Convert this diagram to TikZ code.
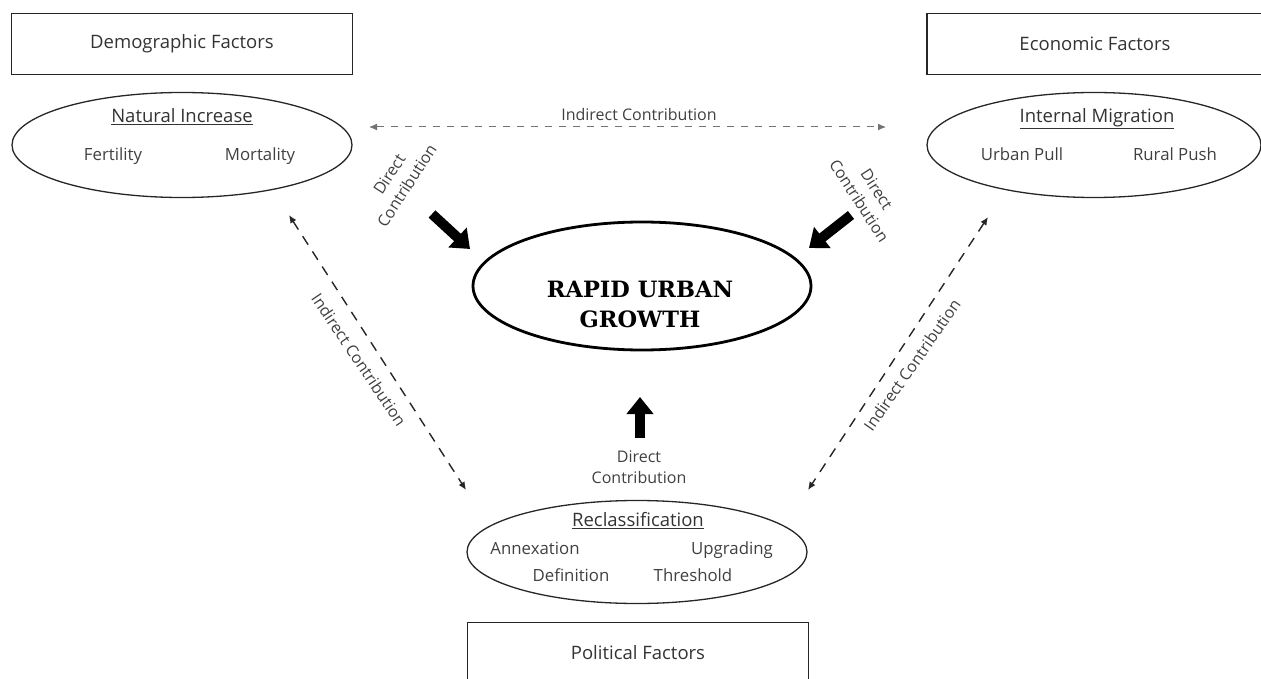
\documentclass[tikz,border=0pt]{standalone}
\usepackage{fontspec}
\setmainfont{Open Sans}
\newfontfamily\headfont{DejaVu Serif}
\usetikzlibrary{shapes.geometric,arrows.meta}
\begin{document}
\begin{tikzpicture}[x=1pt,y=-1pt,
  factor/.style={draw=black!85, line width=1.4pt, minimum width=341pt, minimum height=61pt, text=black!80, font=\fontsize{18.5}{22}\selectfont},
  cause/.style={draw=black!85, ellipse, line width=1.3pt, minimum width=340pt, minimum height=105pt},
  head/.style={text=black!80, text height=0.75em, text depth=0.25em, font=\fontsize{18.5}{22}\selectfont},
  item/.style={text=black!75, text height=0.75em, text depth=0.25em, font=\fontsize{16.8}{20}\selectfont},
  lbl/.style={text=black!75, font=\fontsize{16}{21}\selectfont, align=center},
  direct/.style={line width=10pt, black, -{Triangle[length=17pt,width=26pt]}},
  indirect/.style={line width=1.4pt, black!85, dash pattern=on 10pt off 8pt, {Latex[length=8pt,width=7pt]}-{Latex[length=8pt,width=7pt]}}]
\useasboundingbox (0,0) rectangle (1261,679);

% factor boxes
\node[factor] (demo) at (182,44) {Demographic Factors};
\node[factor, minimum width=336pt] (econ) at (1095,44) {Economic Factors};
\node[factor] (poli) at (638,653) {Political Factors};

% components
\node[cause] (natinc) at (182,145) {};
\node[head] (natinch) at (182,120) {\underline{Natural Increase}};
\node[item] (fert) at (113,158) {Fertility};
\node[item] (mort) at (260,158) {Mortality};

\node[cause, minimum width=334pt] (migr) at (1094,145) {};
\node[head] (migrh) at (1097,120) {\underline{Internal Migration}};
\node[item] (pull) at (1022,158) {Urban Pull};
\node[item] (push) at (1175,158) {Rural Push};

\node[cause, minimum height=103pt] (recl) at (637,552) {};
\node[head] (reclh) at (638,524) {\underline{Reclassification}};
\node[item] (annex) at (535,552) {Annexation};
\node[item] (upgr) at (732,552) {Upgrading};
\node[item] (defn) at (571,579) {Definition};
\node[item] (thrs) at (693,579) {Threshold};

% centre
\node[ellipse, draw, line width=2.8pt, minimum width=338pt, minimum height=128pt] (urban) at (642,286) {};
\node[align=center, font=\headfont\bfseries\fontsize{22.5}{30}\selectfont] (urbant) at (640,304) {RAPID URBAN\\GROWTH};

% direct contribution
\coordinate (dl0) at (432,214);
\coordinate (dl1) at (470,249);
\coordinate (dr0) at (851,215);
\coordinate (dr1) at (809,248);
\coordinate (db0) at (640,438);
\coordinate (db1) at (640,397);
\draw[direct] (dl0) -- (dl1);
\draw[direct] (dr0) -- (dr1);
\draw[direct] (db0) -- (db1);
\node[lbl, rotate=57] (dlt) at (398,180) {Direct\\Contribution};
\node[lbl, rotate=-57] (drt) at (868,195) {Direct\\Contribution};
\node[lbl] (dbt) at (639,467) {Direct\\Contribution};

% indirect contribution
\coordinate (it0) at (369,127);
\coordinate (it1) at (886,127);
\coordinate (il0) at (289,215);
\coordinate (il1) at (466,490);
\coordinate (ir0) at (988,217);
\coordinate (ir1) at (808,490);
\draw[indirect, line width=1pt, black!55, dash pattern=on 7pt off 7pt] (it0) -- (it1);
\draw[indirect] (il0) -- (il1);
\draw[indirect] (ir0) -- (ir1);
\node[lbl] (itt) at (639,115) {Indirect Contribution};
\node[lbl, rotate=-56] (ilt) at (359,360) {Indirect Contribution};
\node[lbl, rotate=55] (irt) at (912,365) {Indirect Contribution};

\end{tikzpicture}
\end{document}
